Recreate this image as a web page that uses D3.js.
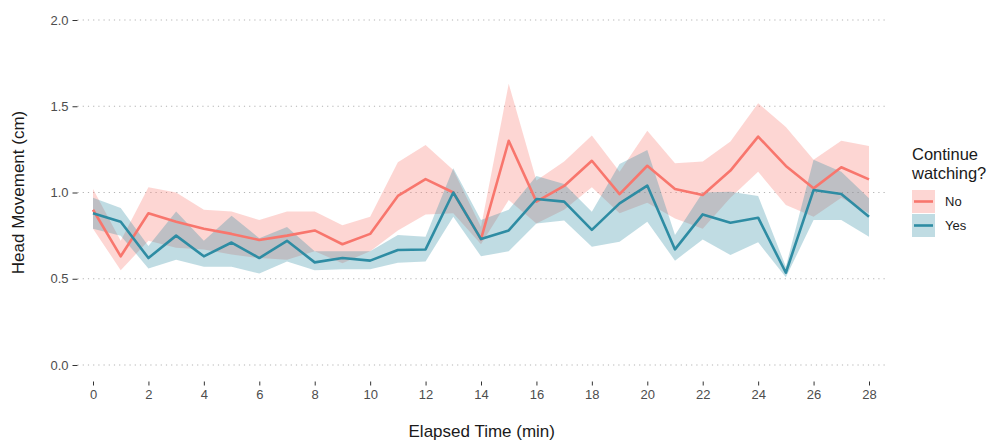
<!DOCTYPE html>
<html>
<head>
<meta charset="utf-8">
<script src="https://cdn.jsdelivr.net/npm/d3@7"></script>
<style>
  body { margin: 0; background: #fff; }
  svg text { font-family: "Liberation Sans", Arial, sans-serif; }
</style>
</head>
<body>
<div id="chart"></div>
<script>
// elapsed minutes
const minutes = d3.range(0, 29);

// "No" group: mean and ribbon bounds
const noMean = [0.90, 0.63, 0.88, 0.83, 0.79, 0.76, 0.725, 0.75, 0.78, 0.70, 0.76, 0.98, 1.078, 1.00, 0.73,
                1.30, 0.947, 1.038, 1.184, 0.991, 1.155, 1.02, 0.986, 1.127, 1.324, 1.154, 1.024, 1.146, 1.076];
const noLow  = [0.79, 0.55, 0.72, 0.68, 0.67, 0.64, 0.62, 0.61, 0.66, 0.59, 0.66, 0.78, 0.873, 0.88, 0.70,
                0.957, 0.82, 0.90, 1.03, 0.88, 0.94, 0.85, 0.79, 0.97, 1.12, 0.928, 0.86, 0.97, 0.88];
const noHigh = [1.02, 0.72, 1.03, 1.00, 0.90, 0.89, 0.84, 0.89, 0.89, 0.81, 0.86, 1.175, 1.275, 1.13, 0.80,
                1.63, 1.07, 1.18, 1.33, 1.12, 1.358, 1.17, 1.18, 1.295, 1.517, 1.38, 1.19, 1.30, 1.27];

// "Yes" group
const yesMean = [0.88, 0.83, 0.62, 0.75, 0.63, 0.71, 0.62, 0.72, 0.595, 0.62, 0.605, 0.667, 0.67, 1.00, 0.73,
                 0.78, 0.962, 0.947, 0.783, 0.937, 1.04, 0.67, 0.873, 0.825, 0.854, 0.535, 1.014, 0.991, 0.86];
const yesLow  = [0.79, 0.75, 0.56, 0.61, 0.57, 0.57, 0.53, 0.60, 0.55, 0.555, 0.555, 0.593, 0.60, 0.86, 0.63,
                 0.66, 0.82, 0.837, 0.686, 0.715, 0.83, 0.605, 0.728, 0.638, 0.711, 0.508, 0.84, 0.84, 0.744];
const yesHigh = [0.97, 0.91, 0.69, 0.89, 0.72, 0.865, 0.735, 0.80, 0.66, 0.66, 0.66, 0.754, 0.744, 1.14, 0.84,
                 0.90, 1.095, 1.05, 0.889, 1.165, 1.246, 0.754, 1.00, 1.005, 0.98, 0.57, 1.19, 1.12, 0.966];

const groups = ["No", "Yes"];
const yTicks = [0, 0.5, 1, 1.5, 2];
const xTicks = d3.range(0, 29, 2);

const colors = { No: "#F8766D", Yes: "#2E8CA3" };

const width = 995, height = 443;
const panel = { left: 77.5, right: 886, top: 3, bottom: 381.5 };

const svg = d3.select("#chart").append("svg")
    .attr("width", width)
    .attr("height", height);

const x = d3.scaleLinear().domain([0, 28]).range([93, 869]);
const y = d3.scaleLinear().domain([0, 2]).range([365, 20]);

// dotted horizontal grid
svg.append("g")
    .selectAll("line")
    .data(yTicks)
    .enter()
    .append("line")
    .attr("x1", panel.left)
    .attr("x2", panel.right)
    .attr("y1", d => y(d))
    .attr("y2", d => y(d))
    .attr("stroke", "#b3b3b3")
    .attr("stroke-width", 1.1)
    .attr("stroke-dasharray", "1.2,4");

const series = [
    { key: "No", rows: minutes.map((t, i) => ({ t, m: noMean[i], lo: noLow[i], hi: noHigh[i] })) },
    { key: "Yes", rows: minutes.map((t, i) => ({ t, m: yesMean[i], lo: yesLow[i], hi: yesHigh[i] })) }
];

const area = d3.area()
    .x(d => x(d.t))
    .y0(d => y(d.lo))
    .y1(d => y(d.hi));

const line = d3.line()
    .x(d => x(d.t))
    .y(d => y(d.m));

svg.append("g")
    .selectAll("path")
    .data(series)
    .enter()
    .append("path")
    .attr("d", d => area(d.rows))
    .attr("fill", d => colors[d.key])
    .attr("fill-opacity", 0.3);

svg.append("g")
    .selectAll("path")
    .data(series)
    .enter()
    .append("path")
    .attr("d", d => line(d.rows))
    .attr("fill", "none")
    .attr("stroke", d => colors[d.key])
    .attr("stroke-width", 2.6)
    .attr("stroke-linejoin", "round");

// axes
const yAxis = svg.append("g")
    .attr("transform", `translate(${panel.left},0)`)
    .call(d3.axisLeft(y).tickValues(yTicks).tickFormat(d3.format(".1f")).tickSize(5).tickPadding(4));

const xAxis = svg.append("g")
    .attr("transform", `translate(0,${panel.bottom})`)
    .call(d3.axisBottom(x).tickValues(xTicks).tickSize(4).tickPadding(4));

[yAxis, xAxis].forEach(g => {
    g.select(".domain").remove();
    g.selectAll(".tick line").attr("stroke", "#333").attr("stroke-width", 1);
    g.selectAll(".tick text")
        .attr("fill", "#4d4d4d")
        .style("font-size", "13px")
        .style("font-family", "'Liberation Sans', Arial, sans-serif");
});

// axis titles
svg.append("text")
    .attr("x", (panel.left + panel.right) / 2)
    .attr("y", 437)
    .attr("text-anchor", "middle")
    .style("font-size", "17px")
    .attr("fill", "#1a1a1a")
    .text("Elapsed Time (min)");

svg.append("text")
    .attr("transform", `translate(24,${y(1)}) rotate(-90)`)
    .attr("text-anchor", "middle")
    .style("font-size", "17px")
    .attr("fill", "#1a1a1a")
    .text("Head Movement (cm)");

// legend
const legend = svg.append("g").attr("transform", "translate(912,0)");

legend.append("text").attr("x", 0).attr("y", 160)
    .style("font-size", "16.5px").attr("fill", "#1a1a1a").text("Continue");
legend.append("text").attr("x", 0).attr("y", 179)
    .style("font-size", "16.5px").attr("fill", "#1a1a1a").text("watching?");

const keys = legend.selectAll(".key")
    .data(groups)
    .enter()
    .append("g")
    .attr("class", "key")
    .attr("transform", (d, i) => `translate(0,${190 + i * 24})`);

keys.append("rect")
    .attr("width", 23)
    .attr("height", 23)
    .attr("fill", d => colors[d])
    .attr("fill-opacity", 0.3);

keys.append("line")
    .attr("x1", 2).attr("x2", 21)
    .attr("y1", 11.5).attr("y2", 11.5)
    .attr("stroke", d => colors[d])
    .attr("stroke-width", 2.6);

keys.append("text")
    .attr("x", 33)
    .attr("y", 11.5)
    .attr("dy", "0.35em")
    .style("font-size", "13px")
    .attr("fill", "#1a1a1a")
    .text(d => d);
</script>
</body>
</html>
